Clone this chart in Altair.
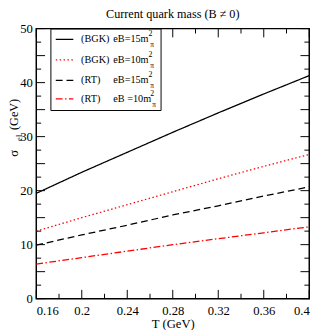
import altair as alt
import pandas as pd

# ---- data ----
T = [0.16, 0.20, 0.24, 0.28, 0.32, 0.36, 0.40]
bgk15 = [19.5, 23.4, 27.1, 30.8, 34.4, 37.9, 41.3]
bgk10 = [12.5, 15.0, 17.4, 19.8, 22.2, 24.5, 26.7]
rt15 = [9.9, 11.8, 13.6, 15.5, 17.2, 19.0, 20.7]
rt10 = [6.4, 7.6, 8.8, 10.0, 11.1, 12.2, 13.3]

series = ["BGK15", "BGK10", "RT15", "RT10"]
prefixes = ["(BGK)", "(BGK)", "(RT)", "(RT)"]
labels = ["eB=15m", "eB=10m", "eB=15m", "eB =10m"]
colors = ["#000000", "#ff0000", "#000000", "#ff0000"]
dashes = [[1, 0], [1.5, 2.5], [7, 4], [7, 2.5, 1.5, 2.5]]

x_major = [0.16, 0.20, 0.24, 0.28, 0.32, 0.36, 0.40]
x_minor = [0.18, 0.22, 0.26, 0.30, 0.34, 0.38]
y_major = [0, 5, 10, 15, 20, 25, 30, 35, 40, 45, 50]
y_minor = [2.5, 7.5, 12.5, 17.5, 22.5, 27.5, 32.5, 37.5, 42.5, 47.5]

W, H = 280, 277
FONT = "Liberation Serif"

rows = []
for name, vals in zip(series, [bgk15, bgk10, rt15, rt10]):
    for t, v in zip(T, vals):
        rows.append({"T": t, "sigma": v, "series": name})
df = pd.DataFrame(rows)

xscale = alt.Scale(domain=[0.16, 0.4], nice=False, zero=False)
yscale = alt.Scale(domain=[0, 50], nice=False)

lines = alt.Chart(df).mark_line(strokeWidth=1.3).encode(
    x=alt.X("T:Q", scale=xscale,
            axis=alt.Axis(values=x_major, title="T (GeV)",
                          labelExpr="toString(round(datum.value*100)/100)",
                          labelPadding=6, titlePadding=1)),
    y=alt.Y("sigma:Q", scale=yscale,
            axis=alt.Axis(values=y_major, title=None, labelPadding=4)),
    color=alt.Color("series:N", scale=alt.Scale(domain=series, range=colors), legend=None),
    strokeDash=alt.StrokeDash("series:N", scale=alt.Scale(domain=series, range=dashes), legend=None),
)

layers = [lines]

# inward ticks on all four sides
xmaj = pd.DataFrame({"T": x_major})
xmin = pd.DataFrame({"T": x_minor})
ymaj = pd.DataFrame({"sigma": y_major})
ymin = pd.DataFrame({"sigma": y_minor})
for d, L in [(xmaj, 9), (xmin, 5)]:
    layers.append(alt.Chart(d).mark_rule(color="black", strokeWidth=1).encode(
        x=alt.X("T:Q", scale=xscale), y=alt.value(H), y2=alt.value(H - L)))
    layers.append(alt.Chart(d).mark_rule(color="black", strokeWidth=1).encode(
        x=alt.X("T:Q", scale=xscale), y=alt.value(0), y2=alt.value(L)))
for d, L in [(ymaj, 9), (ymin, 5)]:
    layers.append(alt.Chart(d).mark_rule(color="black", strokeWidth=1).encode(
        y=alt.Y("sigma:Q", scale=yscale), x=alt.value(0), x2=alt.value(L)))
    layers.append(alt.Chart(d).mark_rule(color="black", strokeWidth=1).encode(
        y=alt.Y("sigma:Q", scale=yscale), x=alt.value(W), x2=alt.value(W - L)))

# legend box
dummy = pd.DataFrame({"a": [0]})
layers.append(alt.Chart(dummy).mark_rect(fill="white", stroke="black", strokeWidth=1).encode(
    x=alt.value(15), x2=alt.value(128), y=alt.value(0.5), y2=alt.value(84)))

row_y = [11, 32, 53, 72]
sup_x = [115, 115, 115, 117]
for i in range(4):
    yy = row_y[i]
    layers.append(alt.Chart(dummy).mark_rule(color=colors[i], strokeDash=dashes[i], strokeWidth=1.3).encode(
        x=alt.value(20), x2=alt.value(38), y=alt.value(yy)))
    layers.append(alt.Chart(dummy).mark_text(text=prefixes[i], font=FONT, fontSize=10.5, align="left",
                                             baseline="middle", color="black").encode(
        x=alt.value(46), y=alt.value(yy)))
    layers.append(alt.Chart(dummy).mark_text(text=labels[i], font=FONT, fontSize=10.5, align="left",
                                             baseline="middle", color="black").encode(
        x=alt.value(79), y=alt.value(yy)))
    layers.append(alt.Chart(dummy).mark_text(text="2", font=FONT, fontSize=8, align="left",
                                             baseline="middle", color="black").encode(
        x=alt.value(sup_x[i]), y=alt.value(yy - 5)))
    layers.append(alt.Chart(dummy).mark_text(text="π", font=FONT, fontSize=7.5, align="left",
                                             baseline="middle", color="black").encode(
        x=alt.value(sup_x[i] + 2), y=alt.value(yy + 6)))

# y-axis title with subscript
for txt, xx, yy, fs in [("σ", -23, 128, 13), ("el", -18, 112, 9), ("(GeV)", -23, 88, 12.5)]:
    layers.append(alt.Chart(dummy).mark_text(text=txt, font=FONT, fontSize=fs, angle=270,
                                             align="center", baseline="middle", color="black").encode(
        x=alt.value(xx), y=alt.value(yy)))

chart = alt.layer(*layers).properties(
    width=W, height=H,
    autosize=alt.AutoSizeParams(type="none"),
    padding={"left": 29, "top": 17, "right": 10, "bottom": 28},
    title=alt.TitleParams("Current quark mass (B ≠ 0)", font=FONT, fontSize=12.5,
                          fontWeight="normal", offset=2, anchor="middle", color="black"),
).configure_view(stroke="black", strokeWidth=1.5).configure_axis(
    domain=False, ticks=False, grid=False,
    labelFont=FONT, labelFontSize=13, labelColor="black",
    titleFont=FONT, titleFontSize=13, titleFontWeight="normal", titleColor="black",
)

chart.save("out.html", embed_options={"renderer": "svg", "actions": False})
